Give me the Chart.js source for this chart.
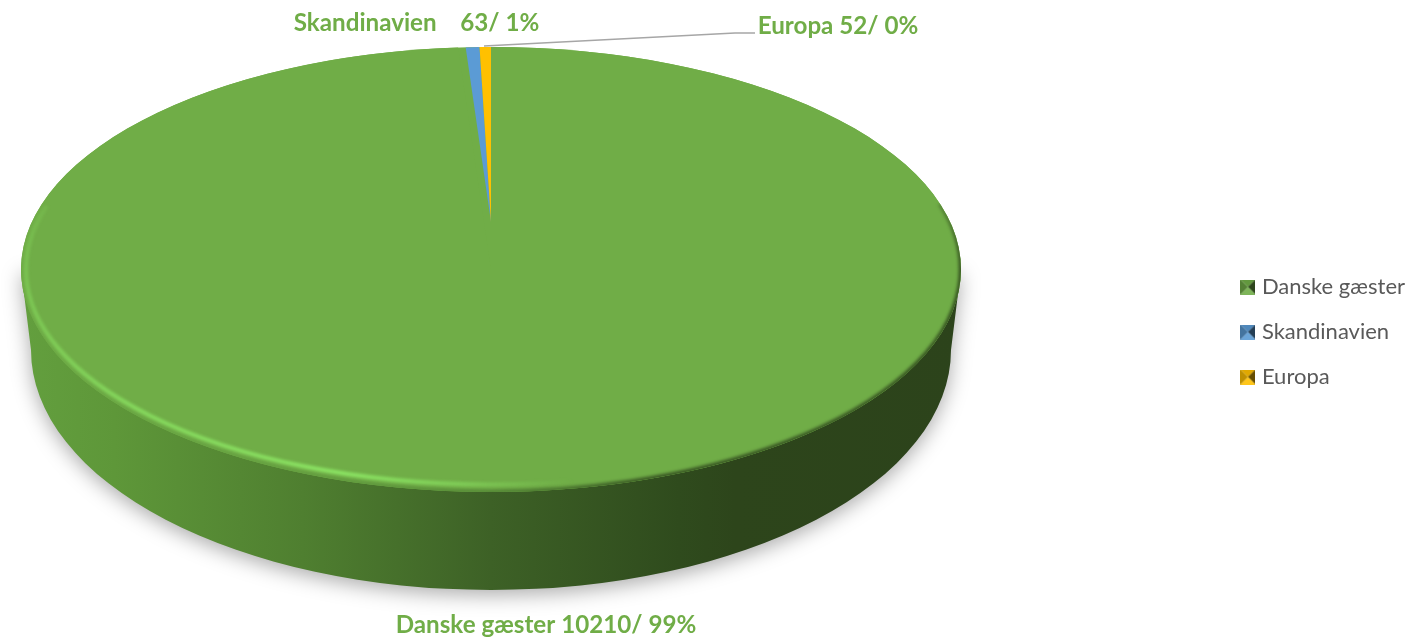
<!DOCTYPE html>
<html lang="da">
<head>
    <meta charset="UTF-8">
    <title>Gæster</title>
    <script src="https://cdn.jsdelivr.net/npm/chart.js"></script>
    <style>
        html, body { margin: 0; padding: 0; background: #fff; overflow: hidden; }
        canvas { display: block; }
    </style>
</head>
<body>
    <canvas id="pieChart" width="1411" height="639"></canvas>

    <script>
        const categories = ['Danske gæster', 'Skandinavien', 'Europa'];
        const guests = [10210, 63, 52];
        const percents = [99, 1, 0];
        const sliceColors = ['#70AD47', '#5B9BD5', '#FFC000'];

        // where the flat pie ends up on the page
        const top3d = { x: 491, y: 269.5, rx: 470, ry: 222.5 };
        const bottom3d = { x: 491, y: 350, rx: 460, ry: 240 };
        // perspective pulls the pie centre up, the thin back slices use this one
        const back3d = { x: 491, y: 222, rx: 362, ry: 175 };

        const labelFont = 'bold 24.2px Lato';
        const labelColor = '#70AD47';
        const labelSpots = [
            { x: 546, y: 625, gap: ' ' },
            { x: 416.5, y: 23, gap: '    ' },
            { x: 838, y: 26, gap: ' ' }
        ];

        // small pyramid swatch used in the legend
        function swatch(color) {
            const c = document.createElement('canvas');
            c.width = 15;
            c.height = 15;
            const g = c.getContext('2d');
            const faces = [
                [[0, 0], [15, 0], 'rgba(0,0,0,0.12)'],
                [[15, 0], [15, 15], 'rgba(0,0,0,0.6)'],
                [[15, 15], [0, 15], 'rgba(255,255,255,0.1)'],
                [[0, 15], [0, 0], 'rgba(0,0,0,0.25)']
            ];
            faces.forEach(f => {
                g.beginPath();
                g.moveTo(7.5, 7.5);
                g.lineTo(f[0][0], f[0][1]);
                g.lineTo(f[1][0], f[1][1]);
                g.closePath();
                g.fillStyle = color;
                g.fill();
                g.fillStyle = f[2];
                g.fill();
            });
            return c;
        }

        function sideGradient(ctx) {
            const grad = ctx.createLinearGradient(21, 0, 961, 0);
            grad.addColorStop(0, '#639F3E');
            grad.addColorStop(0.1, '#5E9739');
            grad.addColorStop(0.3, '#4F7F30');
            grad.addColorStop(0.5, '#3D6126');
            grad.addColorStop(0.7, '#2F4B1D');
            grad.addColorStop(0.76, '#2D451B');
            grad.addColorStop(1, '#2C431B');
            return grad;
        }

        function squashTo(ctx, arc, box) {
            ctx.translate(box.x, box.y);
            ctx.scale(box.rx / arc.outerRadius, box.ry / arc.outerRadius);
            ctx.translate(-arc.x, -arc.y);
        }

        // bevel colours going round the front edge, angle in radians from 3 o'clock
        function edgeGradient(ctx, stops) {
            const start = -0.6;
            const grad = ctx.createConicGradient(start, top3d.x, top3d.y);
            stops.forEach(s => grad.addColorStop((s[0] - start) / (Math.PI * 2), s[1]));
            return grad;
        }

        const pie3d = {
            id: 'pie3d',
            // move the legend to its spot, the layout centres it on the pie otherwise
            afterLayout(chart) {
                const legend = chart.legend;
                const shiftY = 332 - (legend.top + legend.bottom) / 2;
                legend.top += shiftY;
                legend.bottom += shiftY;
                legend.left += 8;
                legend.right += 8;
            },
            beforeDatasetsDraw(chart) {
                const ctx = chart.ctx;
                ctx.save();
                ctx.beginPath();
                ctx.moveTo(top3d.x - top3d.rx, top3d.y);
                ctx.lineTo(bottom3d.x - bottom3d.rx, bottom3d.y);
                ctx.ellipse(bottom3d.x, bottom3d.y, bottom3d.rx, bottom3d.ry, 0, Math.PI, 0, true);
                ctx.lineTo(top3d.x + top3d.rx, top3d.y);
                ctx.closePath();
                ctx.shadowColor = 'rgba(0,0,0,0.33)';
                ctx.shadowBlur = 20;
                ctx.shadowOffsetY = 5;
                ctx.fillStyle = sideGradient(ctx);
                ctx.fill();
                ctx.restore();

                // base of the top face, closes the wedge the back slices leave open
                ctx.beginPath();
                ctx.ellipse(top3d.x, top3d.y, top3d.rx, top3d.ry, 0, 0, Math.PI * 2);
                ctx.fillStyle = sliceColors[0];
                ctx.fill();
            },
            // the arcs are circles, squash them to the ellipse of the top face
            beforeDatasetDraw(chart) {
                const ctx = chart.ctx;
                const arcs = chart.getDatasetMeta(0).data;
                arcs[1].draw = () => {};
                arcs[2].draw = () => {};
                ctx.save();
                squashTo(ctx, arcs[0], top3d);
            },
            afterDatasetDraw(chart) {
                const ctx = chart.ctx;
                ctx.restore();
                chart.getDatasetMeta(0).data.slice(1).forEach(arc => {
                    ctx.save();
                    squashTo(ctx, arc, back3d);
                    Chart.ArcElement.prototype.draw.call(arc, ctx);
                    ctx.restore();
                });
            },
            afterDatasetsDraw(chart) {
                const ctx = chart.ctx;

                ctx.save();
                ctx.beginPath();
                ctx.ellipse(top3d.x, top3d.y, top3d.rx, top3d.ry, 0, 0, Math.PI * 2);
                ctx.clip();

                // soft dark lip on the outer edge
                ctx.filter = 'blur(1.5px)';
                ctx.beginPath();
                ctx.ellipse(top3d.x, top3d.y, top3d.rx, top3d.ry, 0, -0.3, Math.PI + 0.1);
                ctx.strokeStyle = edgeGradient(ctx, [
                    [-0.25, 'rgba(45,69,27,0)'],
                    [0.0, 'rgba(45,69,27,0.8)'],
                    [0.9, 'rgba(45,69,27,0.8)'],
                    [1.6, 'rgba(70,115,45,0.6)'],
                    [2.5, 'rgba(85,140,55,0.35)'],
                    [2.95, 'rgba(85,140,55,0.1)'],
                    [3.2, 'rgba(85,140,55,0)']
                ]);
                ctx.lineWidth = 5;
                ctx.stroke();

                // highlight just inside it
                ctx.beginPath();
                ctx.ellipse(top3d.x, top3d.y, top3d.rx - 5, top3d.ry - 7.5, 0, 1.2, Math.PI + 0.3);
                ctx.strokeStyle = edgeGradient(ctx, [
                    [1.2, 'rgba(140,230,100,0)'],
                    [1.75, 'rgba(140,230,100,0.6)'],
                    [2.2, 'rgba(140,230,100,1)'],
                    [2.75, 'rgba(140,230,100,0.8)'],
                    [3.1, 'rgba(140,230,100,0.45)'],
                    [3.4, 'rgba(140,230,100,0)']
                ]);
                ctx.lineWidth = 4;
                ctx.stroke();
                ctx.restore();

                // leader line of the Europa label
                ctx.save();
                ctx.beginPath();
                ctx.moveTo(484, 46);
                ctx.lineTo(735, 33);
                ctx.lineTo(755, 33);
                ctx.strokeStyle = '#A6A6A6';
                ctx.lineWidth = 1.4;
                ctx.stroke();
                ctx.restore();

                // data labels
                ctx.save();
                ctx.font = labelFont;
                ctx.fillStyle = labelColor;
                ctx.textAlign = 'center';
                ctx.textBaseline = 'middle';
                categories.forEach((name, i) => {
                    const spot = labelSpots[i];
                    ctx.fillText(name + spot.gap + guests[i] + '/ ' + percents[i] + '%', spot.x, spot.y);
                });
                ctx.restore();
            }
        };

        const ctx = document.getElementById('pieChart').getContext('2d');
        const chart = new Chart(ctx, {
            type: 'pie',
            data: {
                labels: categories,
                datasets: [{
                    data: guests,
                    backgroundColor: sliceColors,
                    borderWidth: 0,
                    clip: false
                }]
            },
            options: {
                responsive: false,
                animation: false,
                events: [],
                layout: {
                    padding: { top: 47, bottom: 147, left: 0, right: 4 }
                },
                plugins: {
                    tooltip: { enabled: false },
                    legend: {
                        position: 'right',
                        labels: {
                            usePointStyle: true,
                            boxWidth: 6,
                            padding: 23,
                            color: '#595959',
                            font: { family: 'Lato', size: 22 },
                            generateLabels(c) {
                                const items = Chart.overrides.doughnut.plugins.legend.labels.generateLabels(c);
                                items.forEach((item, i) => {
                                    item.pointStyle = swatch(sliceColors[i]);
                                });
                                return items;
                            }
                        }
                    }
                }
            },
            plugins: [pie3d]
        });
    </script>
</body>
</html>
